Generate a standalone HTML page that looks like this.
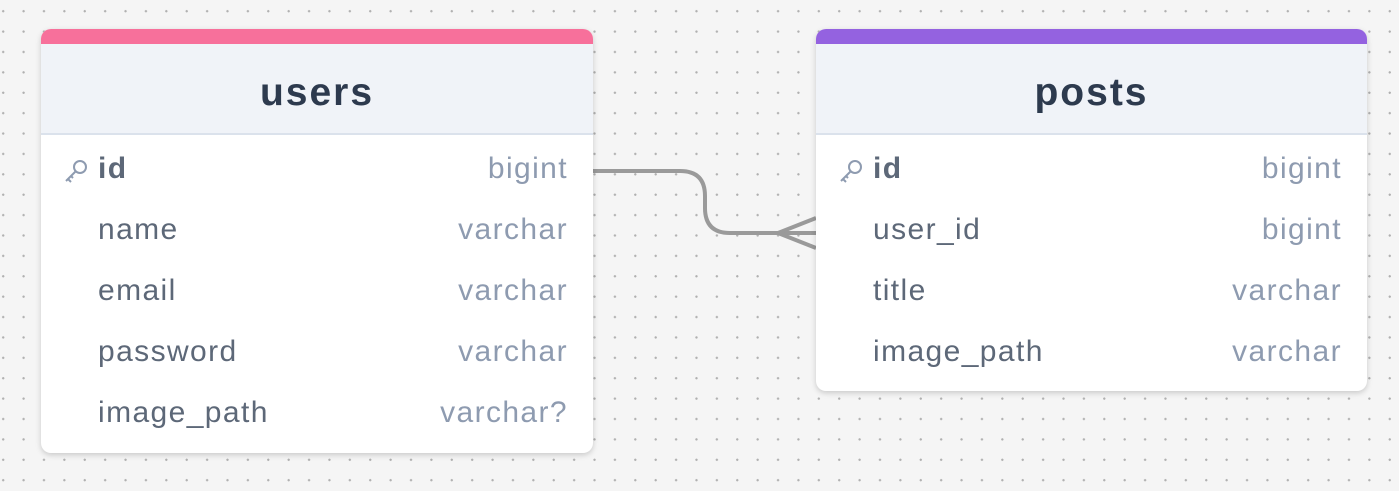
<!DOCTYPE html>
<html><head><style>
body{margin:0;width:1399px;height:491px;overflow:hidden;background-color:#f5f5f5;
background-image:radial-gradient(circle,#b0b0b0 1px,transparent 1.3px);background-size:20.4px 20.4px;background-position:-7px 1px;
font-family:"Liberation Sans",sans-serif;position:relative}
.t{position:absolute;background:#fff;border-radius:10px;box-shadow:0 2px 6px rgba(0,0,0,.18);overflow:hidden}
.bar{height:15px}
.h{height:89px;background:#f0f3f8;border-bottom:2px solid #dbe2ec;text-align:center;line-height:98px;font-size:39px;font-weight:bold;color:#2d3a4e;letter-spacing:2px}
.r{height:61px;position:relative;font-size:30px;color:#5d6878;letter-spacing:1.4px}
.r .n{position:absolute;left:57px;top:17px}
.r .ty{position:absolute;right:25px;top:17px;color:#8e9bb0}
.k{position:absolute;left:22px;top:23px}
</style></head><body>
<svg style="position:absolute;left:0;top:0" width="1399" height="491">
<path d="M593 171 H680 Q705 171 705 196 V208 Q705 233 730 233 H816" fill="none" stroke="#9a9a9a" stroke-width="4"/>
<path d="M816 218 L778 233 L816 248" fill="none" stroke="#9a9a9a" stroke-width="4"/>
</svg>
<div class="t" style="left:41px;top:29px;width:552px;height:424px">
<div class="bar" style="background:#f7709b"></div>
<div class="h">users</div>
<div class="r"><svg class="k" width="26" height="26" viewBox="0 0 26 26"><circle cx="17" cy="9" r="6" fill="none" stroke="#8e9bb0" stroke-width="2"/><path d="M13 13 L3 23 M5 21 l3 3 M8 18 l2 2" stroke="#8e9bb0" stroke-width="2" fill="none"/></svg><span class="n" style="font-weight:bold">id</span><span class="ty">bigint</span></div>
<div class="r"><span class="n">name</span><span class="ty">varchar</span></div>
<div class="r"><span class="n">email</span><span class="ty">varchar</span></div>
<div class="r"><span class="n">password</span><span class="ty">varchar</span></div>
<div class="r"><span class="n">image_path</span><span class="ty">varchar?</span></div>
</div>
<div class="t" style="left:816px;top:29px;width:551px;height:362px">
<div class="bar" style="background:#9462e0"></div>
<div class="h">posts</div>
<div class="r"><svg class="k" width="26" height="26" viewBox="0 0 26 26"><circle cx="17" cy="9" r="6" fill="none" stroke="#8e9bb0" stroke-width="2"/><path d="M13 13 L3 23 M5 21 l3 3 M8 18 l2 2" stroke="#8e9bb0" stroke-width="2" fill="none"/></svg><span class="n" style="font-weight:bold">id</span><span class="ty">bigint</span></div>
<div class="r"><span class="n">user_id</span><span class="ty">bigint</span></div>
<div class="r"><span class="n">title</span><span class="ty">varchar</span></div>
<div class="r"><span class="n">image_path</span><span class="ty">varchar</span></div>
</div>
</body></html>
